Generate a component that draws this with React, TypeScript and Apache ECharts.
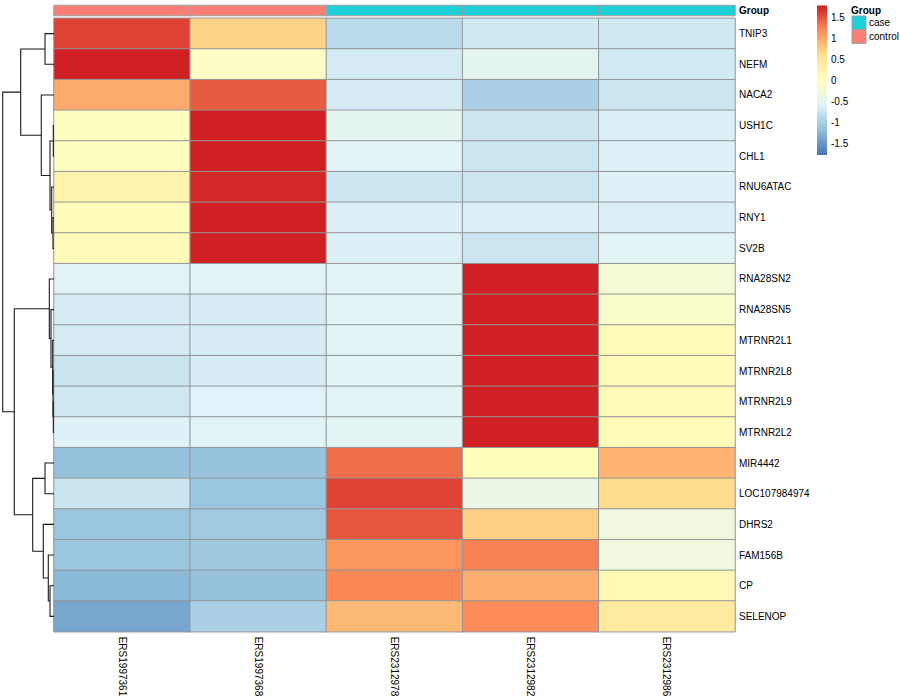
import React, { useEffect, useRef } from 'react';
import * as echarts from 'echarts';

const samples = ['ERS1997361', 'ERS1997368', 'ERS2312978', 'ERS2312982', 'ERS2312986'];
const sampleGroups = ['control', 'control', 'case', 'case', 'case'];
const groupLevels = ['case', 'control'];
const groupColors = ['#1DD0D7', '#F97E76'];

const genes = [
  'TNIP3', 'NEFM', 'NACA2', 'USH1C', 'CHL1', 'RNU6ATAC', 'RNY1', 'SV2B',
  'RNA28SN2', 'RNA28SN5', 'MTRNR2L1', 'MTRNR2L8', 'MTRNR2L9', 'MTRNR2L2',
  'MIR4442', 'LOC107984974', 'DHRS2', 'FAM156B', 'CP', 'SELENOP',
];

// row-scaled values (z-scores), one array per gene, columns in sample order
const zTNIP3 = [1.6, 0.7, -0.86, -0.71, -0.71];
const zNEFM = [1.78, -0.05, -0.67, -0.51, -0.69];
const zNACA2 = [0.98, 1.46, -0.67, -0.98, -0.73];
const zUSH1C = [0.0, 1.78, -0.5, -0.73, -0.63];
const zCHL1 = [0.0, 1.78, -0.55, -0.73, -0.6];
const zRNU6ATAC = [0.24, 1.74, -0.73, -0.73, -0.6];
const zRNY1 = [0.06, 1.78, -0.63, -0.63, -0.62];
const zSV2B = [0.1, 1.78, -0.63, -0.73, -0.55];
const zRNA28SN2 = [-0.57, -0.57, -0.55, 1.78, -0.22];
const zRNA28SN5 = [-0.66, -0.66, -0.55, 1.78, -0.1];
const zMTRNR2L1 = [-0.66, -0.66, -0.55, 1.78, 0.07];
const zMTRNR2L8 = [-0.75, -0.66, -0.55, 1.78, 0.09];
const zMTRNR2L9 = [-0.72, -0.58, -0.55, 1.78, 0.07];
const zMTRNR2L2 = [-0.6, -0.57, -0.54, 1.78, 0.07];
const zMIR4442 = [-1.14, -1.12, 1.36, 0.03, 0.92];
const zLOC107984974 = [-0.75, -1.1, 1.6, -0.4, 0.63];
const zDHRS2 = [-1.1, -1.06, 1.5, 0.73, -0.32];
const zFAM156B = [-1.1, -1.08, 1.13, 1.26, -0.3];
const zCP = [-1.22, -1.14, 1.22, 0.97, 0.15];
const zSELENOP = [-1.38, -0.98, 0.88, 1.2, 0.4];

const zRows = [
  zTNIP3, zNEFM, zNACA2, zUSH1C, zCHL1, zRNU6ATAC, zRNY1, zSV2B,
  zRNA28SN2, zRNA28SN5, zMTRNR2L1, zMTRNR2L8, zMTRNR2L9, zMTRNR2L2,
  zMIR4442, zLOC107984974, zDHRS2, zFAM156B, zCP, zSELENOP,
];

// row dendrogram: [nodeA, nodeB, height]; leaves 0..19, merge k gets id 20+k
const dendroMerges: [number, number, number][] = [
  [0, 1, 0.9],
  [3, 4, 0.07],
  [6, 7, 0.1],
  [5, 22, 0.23],
  [21, 23, 0.4],
  [2, 24, 1.27],
  [20, 25, 3.33],
  [12, 13, 0.07],
  [11, 27, 0.1],
  [10, 28, 0.13],
  [9, 29, 0.3],
  [8, 30, 0.47],
  [14, 15, 0.9],
  [18, 19, 0.4],
  [17, 33, 0.57],
  [16, 34, 1.07],
  [32, 35, 2.13],
  [31, 36, 3.97],
  [26, 37, 5.13],
];

const colorMin = -1.77;
const colorMax = 1.79;
const colorbarTicks = [1.5, 1, 0.5, 0, -0.5, -1, -1.5];
const palette = ['#4575B4', '#91BFDB', '#E0F3F8', '#FFFFBF', '#FEE090', '#FC8D59', '#CE1F22'];

const FONT = 'Liberation Sans, Arial, Helvetica, sans-serif';

function buildOption() {
  const heatData: [number, number, number][] = [];
  zRows.forEach((row, r) => row.forEach((v, c) => heatData.push([c, r, v])));

  const annoData = sampleGroups.map((g, c) => [c, 0, groupLevels.indexOf(g)]);

  const nodeY: number[] = genes.map((_, i) => i);
  const nodeH: number[] = genes.map(() => 0);
  const segs: number[][] = [];
  dendroMerges.forEach(([a, b, h]) => {
    segs.push([nodeH[a], nodeY[a], nodeH[b], nodeY[b], h]);
    nodeY.push((nodeY[a] + nodeY[b]) / 2);
    nodeH.push(h);
  });
  const rootH = Math.max(...dendroMerges.map((m) => m[2]));

  const gradStops = palette
    .slice()
    .reverse()
    .map((c, i) => ({ offset: i / (palette.length - 1), color: c }));

  const heatTop = 18.3;
  const heatH = 613.4;

  const graphic: any[] = [
    {
      type: 'text',
      left: 851,
      top: 5,
      style: { text: 'Group', fontFamily: FONT, fontSize: 10, fontWeight: 'bold', fill: '#000' },
    },
  ];
  groupLevels.forEach((g, i) => {
    graphic.push({
      type: 'rect',
      shape: { x: 852, y: 16 + i * 13.7, width: 14, height: 13.7 },
      style: { fill: groupColors[i], stroke: '#A0A0A0', lineWidth: 1 },
    });
    graphic.push({
      type: 'text',
      x: 869,
      y: 16 + i * 13.7 + 6.9,
      style: {
        text: g,
        fontFamily: FONT,
        fontSize: 10,
        fill: '#000',
        verticalAlign: 'middle',
      },
    });
  });

  return {
    animation: false,
    textStyle: { fontFamily: FONT },
    graphic,
    grid: [
      { left: 54, top: heatTop, width: 681, height: heatH },
      { left: 54, top: 5.5, width: 681, height: 10 },
      { left: 2.7, top: heatTop, width: 51.3, height: heatH },
      { left: 817, top: 5.4, width: 10, height: 149.5 },
    ],
    xAxis: [
      {
        gridIndex: 0,
        type: 'category',
        data: samples,
        position: 'bottom',
        axisLine: { show: false },
        axisTick: { show: false },
        splitLine: { show: false },
        axisLabel: { rotate: -90, margin: 5, fontSize: 10, color: '#000', fontFamily: FONT, interval: 0 },
      },
      {
        gridIndex: 1,
        type: 'category',
        data: samples,
        show: false,
      },
      {
        gridIndex: 2,
        type: 'value',
        min: 0,
        max: rootH,
        inverse: true,
        show: false,
      },
      {
        gridIndex: 3,
        type: 'value',
        min: 0,
        max: 1,
        show: false,
      },
    ],
    yAxis: [
      {
        gridIndex: 0,
        type: 'category',
        data: genes,
        inverse: true,
        position: 'right',
        axisLine: { show: false },
        axisTick: { show: false },
        splitLine: { show: false },
        axisLabel: { margin: 4, fontSize: 10, color: '#000', fontFamily: FONT, interval: 0 },
      },
      {
        gridIndex: 1,
        type: 'category',
        data: ['Group'],
        position: 'right',
        axisLine: { show: false },
        axisTick: { show: false },
        axisLabel: { margin: 4, fontSize: 10, fontWeight: 'bold', color: '#000', fontFamily: FONT },
      },
      {
        gridIndex: 2,
        type: 'value',
        min: -0.5,
        max: genes.length - 0.5,
        inverse: true,
        show: false,
      },
      {
        gridIndex: 3,
        type: 'value',
        min: colorMin,
        max: colorMax,
        position: 'right',
        axisLine: { show: false },
        axisTick: { show: false },
        splitLine: { show: false },
        axisLabel: {
          customValues: colorbarTicks,
          margin: 4,
          fontSize: 10,
          color: '#000',
          fontFamily: FONT,
          formatter: (v: number) => String(v),
        },
      },
    ],
    visualMap: [
      {
        type: 'continuous',
        show: false,
        seriesIndex: 0,
        dimension: 2,
        min: colorMin,
        max: colorMax,
        inRange: { color: palette },
      },
      {
        type: 'piecewise',
        show: false,
        seriesIndex: 1,
        dimension: 2,
        pieces: groupLevels.map((g, i) => ({ value: i, label: g, color: groupColors[i] })),
      },
    ],
    series: [
      {
        type: 'heatmap',
        xAxisIndex: 0,
        yAxisIndex: 0,
        data: heatData,
        itemStyle: { borderColor: '#959595', borderWidth: 1 },
        emphasis: { disabled: true },
      },
      {
        type: 'heatmap',
        xAxisIndex: 1,
        yAxisIndex: 1,
        data: annoData,
        itemStyle: { borderColor: '#A0A0A0', borderWidth: 1 },
        emphasis: { disabled: true },
      },
      {
        type: 'custom',
        xAxisIndex: 2,
        yAxisIndex: 2,
        data: segs,
        clip: false,
        encode: { x: [0, 2, 4], y: [1, 3] },
        renderItem: (_params: any, api: any) => {
          const ha = api.value(0);
          const ya = api.value(1);
          const hb = api.value(2);
          const yb = api.value(3);
          const h = api.value(4);
          const pts = [
            api.coord([ha, ya]),
            api.coord([h, ya]),
            api.coord([h, yb]),
            api.coord([hb, yb]),
          ];
          return {
            type: 'polyline',
            shape: { points: pts },
            style: { stroke: '#1a1a1a', lineWidth: 1.1, fill: 'none' },
          };
        },
      },
      {
        type: 'custom',
        xAxisIndex: 3,
        yAxisIndex: 3,
        data: [[0, colorMin, 1, colorMax]],
        clip: false,
        encode: { x: [0, 2], y: [1, 3] },
        renderItem: (_params: any, api: any) => {
          const p1 = api.coord([api.value(0), api.value(3)]);
          const p2 = api.coord([api.value(2), api.value(1)]);
          return {
            type: 'rect',
            shape: { x: p1[0], y: p1[1], width: p2[0] - p1[0], height: p2[1] - p1[1] },
            style: { fill: new echarts.graphic.LinearGradient(0, 0, 0, 1, gradStops) },
          };
        },
      },
    ],
  };
}

export default function App() {
  const ref = useRef<HTMLDivElement>(null);
  useEffect(() => {
    const chart = echarts.init(ref.current!, null, { renderer: 'svg' });
    chart.setOption(buildOption() as any);
    return () => chart.dispose();
  }, []);
  return (
    <div
      ref={ref}
      style={{ position: 'fixed', left: 0, top: 0, width: 900, height: 700, background: '#fff' }}
    />
  );
}
